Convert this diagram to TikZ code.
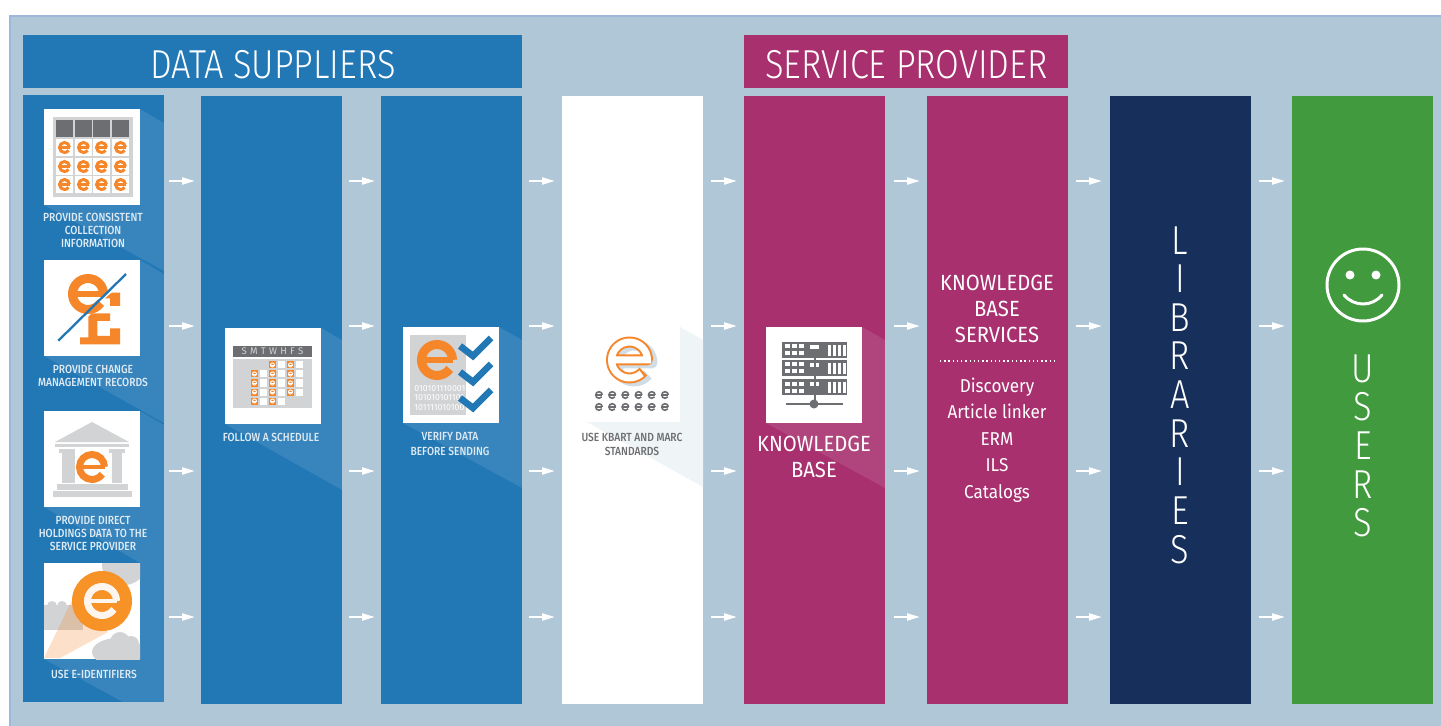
\documentclass[tikz,border=0pt]{standalone}
\usepackage{fontspec}
\setmainfont{Fira Sans}
\newfontfamily\firalight[UprightFont=* Light,FakeStretch=0.85]{Fira Sans}
\newfontfamily\firatext[FakeStretch=0.92]{Fira Sans}
\newfontfamily\firacaption[UprightFont=* Medium,FakeStretch=0.87]{Fira Sans}
\usetikzlibrary{arrows.meta}
\definecolor{backblue}{HTML}{B0C7D7}
\definecolor{edgeblue}{HTML}{9DB8DB}
\definecolor{supplier}{HTML}{2277B5}
\definecolor{provider}{HTML}{A8306F}
\definecolor{libnavy}{HTML}{162F5B}
\definecolor{usergreen}{HTML}{429A3E}
\definecolor{eorange}{HTML}{F5862A}
\definecolor{icongrey}{HTML}{D1D3D4}
\definecolor{darkgrey}{HTML}{6D6E71}
\tikzset{
  column/.style={minimum width=141*0.02cm,minimum height=608*0.02cm,anchor=north west,inner sep=0},
  banner/.style={minimum height=53*0.02cm,anchor=north west,inner sep=0,text=white,text depth=0pt,text height=18.8pt,font=\firalight\fontsize{23}{23}\selectfont},
  iconbox/.style={fill=white,minimum size=96*0.02cm,inner sep=0,anchor=north west},
  caption/.style={text=white!85!supplier,align=center,inner sep=0,font=\firacaption\fontsize{6.7}{7.4}\selectfont},
  biglabel/.style={text=white,align=center,inner sep=0,font=\firatext\fontsize{12.5}{14.8}\selectfont},
  listlabel/.style={text=white,align=center,inner sep=0,font=\firatext\fontsize{10.6}{15.1}\selectfont},
  vertlabel/.style={text=white,align=center,inner sep=0,font=\firalight\fontsize{23}{22}\selectfont},
  flow/.style={white,line width=1.2pt,-{Triangle[length=7.4pt,width=4pt]}},
}
% e logo: centre, radius, stroke, colour
\newcommand{\elogo}[4]{%
  \draw[#4,line width=#3*0.02cm] (#1) ++(#2,0) arc (0:-325:#2);
  \draw[#4,line width=0.7*#3*0.02cm] (#1) ++(-#2,0) -- ++(2*#2,0);
}
\begin{document}
\begin{tikzpicture}[x=0.02cm,y=-0.02cm]
  \useasboundingbox (0,0) rectangle (1441,726);
  % background
  \fill[backblue] (10,16) rectangle (1441,726);
  \draw[edgeblue,line width=1.2pt] (1441,16) -- (10,16) -- (10,726);

  % banners
  \node[banner,fill=supplier,minimum width=499*0.02cm] (suppliers) at (23,35) {DATA SUPPLIERS};
  \node[banner,fill=provider,minimum width=324*0.02cm] (provider) at (744,35) {SERVICE PROVIDER};

  % columns
  \node[column,fill=supplier,minimum height=607*0.02cm] (consistent) at (23,95) {};
  \node[column,fill=supplier] (schedule) at (201,96) {};
  \node[column,fill=supplier] (verify) at (381,96) {};
  \node[column,fill=white] (standards) at (562,96) {};
  \node[column,fill=provider] (base) at (744,96) {};
  \node[column,fill=provider] (services) at (927,96) {};
  \node[column,fill=libnavy] (libraries) at (1110,96) {};
  \node[column,fill=usergreen] (users) at (1292,96) {};

  % shadows
  \begin{scope}[white,fill opacity=0.1]
    \fill (140,109) -- (164,123) -- (164,271) -- (44,205) -- cycle;
    \fill (140,260) -- (164,274) -- (164,423) -- (44,356) -- cycle;
    \fill (140,411) -- (164,425) -- (164,577) -- (44,507) -- cycle;
    \fill (140,563) -- (164,577) -- (164,702) -- (123,702) -- (44,659) -- cycle;
    \fill (321,328) -- (342,340) -- (342,490) -- (225,424) -- cycle;
    \fill (499,327) -- (522,340) -- (522,488) -- (403,423) -- cycle;
    \fill (862,327) -- (885,340) -- (885,488) -- (766,423) -- cycle;
  \end{scope}
  \fill[backblue!20] (680,327) -- (703,340) -- (703,487) -- (587,422) -- (680,422) -- cycle;

  % icon boxes
  \node[iconbox] (collectionicon) at (44,109) {};
  \node[iconbox] (changeicon) at (44,260) {};
  \node[iconbox] (holdingsicon) at (44,411) {};
  \node[iconbox] (identifiericon) at (44,563) {};
  \node[iconbox] (calendaricon) at (225,328) {};
  \node[iconbox] (checkicon) at (403,327) {};
  \node[iconbox] (serversicon) at (766,327) {};

  % table icon
  \fill[icongrey] (53,117) rectangle (133,197);
  \foreach \x in {56,75,93,112} {
    \fill[darkgrey] (\x,120) rectangle +(17,17);
    \foreach \y in {139,158,176} {
      \fill[white] (\x,\y) rectangle +(17,17);
      \elogo{\x+8.5,\y+8.5}{5}{3}{eorange}
    }
  }

  % change icon
  \elogo{88,294}{15.5}{9}{eorange}
  \fill[eorange] (80,344.3) -- (120,344.3) -- (120,328.3) -- (110,328.3) -- (110,336) -- (97.3,336) -- (97.3,321) -- (110,321) -- (110,313.3) -- (91.7,313.3) -- (88.3,316.7) -- (88.3,337.3) -- (80,337.3) -- cycle;
  \fill[eorange] (120,292.7) -- (120,306) -- (110,306) -- (110,298.3) -- (105,298.3) -- (111.7,292.7) -- cycle;
  \draw[supplier,line width=1.3pt] (58.3,340.7) -- (126,274);

  % holdings icon
  \fill[icongrey] (55,442) -- (92,422) -- (129,442) -- cycle;
  \fill[icongrey] (55,444) rectangle (129,447);
  \fill[icongrey] (59,449) rectangle (75,453);
  \fill[icongrey] (62,453) rectangle (75,483);
  \fill[icongrey] (109,449) rectangle (125,453);
  \fill[icongrey] (112,453) rectangle (122,483);
  \fill[icongrey] (57,484) rectangle (128,490);
  \fill[icongrey] (53,491) rectangle (132,497);
  \fill[white] (92,467) circle (17);
  \elogo{92,467}{12.5}{7}{eorange}

  % identifier icon
  \begin{scope}
    \clip (44,563) rectangle (140,659);
    \fill[icongrey] (124,565) ellipse (22 and 20);
    \fill[icongrey] (44,605) rectangle (83,630);
    \fill[icongrey] (52,606) circle (5);
    \fill[icongrey] (62,606) circle (5);
    \fill[icongrey] (118,652) ellipse (26 and 14);
    \fill[icongrey] (120,642) circle (10);
    \fill[icongrey] (131,644) circle (8);
    \fill[eorange,opacity=0.25] (44,658) -- (72,600) -- (108,632) -- (60,658) -- cycle;
  \end{scope}
  \fill[eorange!90!yellow] (102,601) circle (30);
  \elogo{102,601}{14.5}{7}{white!92!eorange}

  % calendar icon
  \fill[icongrey] (233,359) rectangle (312,408);
  \fill[darkgrey] (233,346) rectangle (312,357);
  \node[inner sep=0,text=icongrey,font=\fontsize{5.5}{6}\selectfont] (daynames) at (272.5,351.5) {S\,\,M\,\,T\,\,W\,\,H\,\,F\,\,S};
  \foreach \x/\y in {269/365,287/365,251/374,269/374,287/374,251/383,269/383,287/383,251/392,269/392,287/392,251/401,269/401} {
    \fill[eorange] (\x,\y-3.5) rectangle +(7,7);
    \fill[white] (\x+9,\y-3.5) rectangle +(7,7);
    \elogo{\x+3.5,\y}{2}{1}{white}
  }

  % check icon
  \fill[icongrey] (410,335) rectangle (466,415);
  \elogo{437,360}{15.5}{9}{eorange}
  \node[inner sep=0,text=white,align=left,anchor=west,font=\fontsize{5}{5.4}\selectfont] (bits) at (414,398) {010101110001\\101010101101\\101111010100};
  \foreach \y in {356,382,408} {
    \draw[supplier,line width=3.8pt] (460,\y-10) -- (473,\y) -- (491,\y-18);
  }

  % outlined e icon
  \draw[backblue!60,line width=11*0.02cm,line join=round] (634,363) ++(-18,0) -- ++(36,0) arc (0:-320:18);
  \draw[eorange,line width=11*0.02cm,line join=round] (629.5,360) ++(-18,0) -- ++(36,0) arc (0:-320:18);
  \draw[white,line width=7*0.02cm] (629.5,360) ++(-18,0) -- ++(36,0) arc (0:-312:18);
  \foreach \x in {0,...,5} {
    \elogo{599+\x*13.2,395}{3.3}{1.6}{darkgrey}
    \elogo{599+\x*13.2,407}{3.3}{1.6}{darkgrey}
  }

  % server icon
  \foreach \y in {342,360,379} {
    \fill[darkgrey] (782,\y) rectangle (847,\y+16);
    \foreach \x in {785,792,799} {
      \fill[white] (\x,\y+2.5) rectangle +(5,4);
      \fill[white] (\x,\y+9.5) rectangle +(5,4);
    }
    \fill[white] (810,\y+3) rectangle +(9,4);
    \foreach \x in {828,833,838,843} { \fill[white] (\x,\y+3) rectangle +(2.5,11); }
  }
  \draw[darkgrey,line width=1.5pt] (815,350) -- (815,404);
  \draw[darkgrey,line width=1.5pt] (786,404) -- (843,404);
  \fill[darkgrey] (814,404) circle (4.5);

  % captions
  \node[caption] (collectiontext) at (93,230) {PROVIDE CONSISTENT\\COLLECTION\\INFORMATION};
  \node[caption] (changetext) at (93,376) {PROVIDE CHANGE\\MANAGEMENT RECORDS};
  \node[caption] (holdingstext) at (93,533) {PROVIDE DIRECT\\HOLDINGS DATA TO THE\\SERVICE PROVIDER};
  \node[caption] (identifiertext) at (94,674) {USE E-IDENTIFIERS};
  \node[caption] (scheduletext) at (271,437) {FOLLOW A SCHEDULE};
  \node[caption,font=\firacaption\fontsize{6.7}{8}\selectfont] (verifytext) at (450,444) {VERIFY DATA\\BEFORE SENDING};
  \node[caption,text=darkgrey,font=\firacaption\fontsize{6.7}{8}\selectfont] (standardstext) at (632,444) {USE KBART AND MARC\\STANDARDS};

  % big labels
  \node[biglabel] (basetext) at (814,457) {KNOWLEDGE\\BASE};
  \node[biglabel] (servicestext) at (997,309) {KNOWLEDGE\\BASE\\SERVICES};
  \draw[white,dash pattern=on 0.8pt off 1.6pt,line width=0.6pt] (940,361) -- (1055,361);
  \node[listlabel] (listtext) at (997,440) {Discovery\\Article linker\\ERM\\ILS\\Catalogs};
  \node[vertlabel] (librariestext) at (1180,395) {L\\I\\B\\R\\A\\R\\I\\E\\S};
  \node[vertlabel] (userstext) at (1363,446) {U\\S\\E\\R\\S};

  % smiley
  \draw[white,line width=1.7pt] (1363,285) circle (36);
  \fill[white] (1350,275) circle (4.5);
  \fill[white] (1376,275) circle (4.5);
  \draw[white,line width=1.7pt,line cap=round] (1344,295) .. controls (1354,307) and (1372,307) .. (1382,295);

  % arrows
  \foreach \y in {181,326,471,617} {
    \foreach \name/\x in {a/169,b/349,c/529,d/711,e/894,f/1076,g/1259} {
      \coordinate (\name\y s) at (\x,\y);
      \coordinate (\name\y t) at (\x+26,\y);
      \draw[flow] (\name\y s) -- (\name\y t);
    }
  }
\end{tikzpicture}
\end{document}
